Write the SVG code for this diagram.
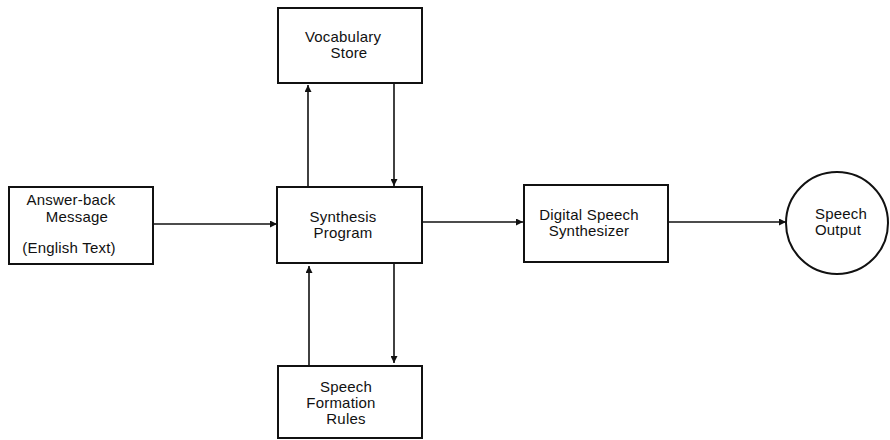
<svg xmlns="http://www.w3.org/2000/svg" width="890" height="440" viewBox="0 0 890 440">
<style>
.box{fill:#fff;stroke:#111;stroke-width:2}
.t{font-family:"Liberation Sans",Arial,sans-serif;font-size:15px;letter-spacing:0.2px;fill:#111;text-anchor:middle}
.c{stroke:#111;stroke-width:1.6;fill:none;marker-end:url(#ah)}
</style>
<defs>
<marker id="ah" viewBox="0 0 10 10" refX="10" refY="5" markerWidth="8" markerHeight="7" markerUnits="userSpaceOnUse" orient="auto">
<path d="M0,0 L10,5 L0,10 z" fill="#111"/>
</marker>
</defs>
<rect width="890" height="440" fill="#fff"/>
<g id="connectors">
<line class="c" x1="153" y1="224" x2="277" y2="224"/>
<line class="c" x1="422" y1="222" x2="523" y2="222"/>
<line class="c" x1="668" y1="222" x2="786" y2="222"/>
<line class="c" x1="308" y1="187" x2="308" y2="85"/>
<line class="c" x1="394" y1="83" x2="394" y2="186"/>
<line class="c" x1="309" y1="366" x2="309" y2="266"/>
<line class="c" x1="394" y1="263" x2="394" y2="363"/>
</g>
<g id="vocabulary">
<rect class="box" x="278" y="8" width="144" height="75"/>
<text class="t" x="343" y="42">Vocabulary</text>
<text class="t" x="349" y="58">Store</text>
</g>
<g id="answerback">
<rect class="box" x="9" y="187" width="144" height="77"/>
<text class="t" x="71" y="205">Answer-back</text>
<text class="t" x="77" y="222">Message</text>
<text class="t" x="69" y="253">(English Text)</text>
</g>
<g id="synthesis">
<rect class="box" x="277" y="187" width="145" height="76"/>
<text class="t" x="343" y="222">Synthesis</text>
<text class="t" x="343" y="238">Program</text>
</g>
<g id="digital">
<rect class="box" x="524" y="185" width="144" height="77"/>
<text class="t" x="589" y="220">Digital Speech</text>
<text class="t" x="589" y="236">Synthesizer</text>
</g>
<g id="output">
<circle cx="837" cy="223" r="51" fill="#fff" stroke="#111" stroke-width="2"/>
<text class="t" x="841" y="219">Speech</text>
<text class="t" x="838" y="235">Output</text>
</g>
<g id="rules">
<rect class="box" x="278" y="366" width="144" height="72"/>
<text class="t" x="346" y="392">Speech</text>
<text class="t" x="341" y="408">Formation</text>
<text class="t" x="346" y="424">Rules</text>
</g>
</svg>
